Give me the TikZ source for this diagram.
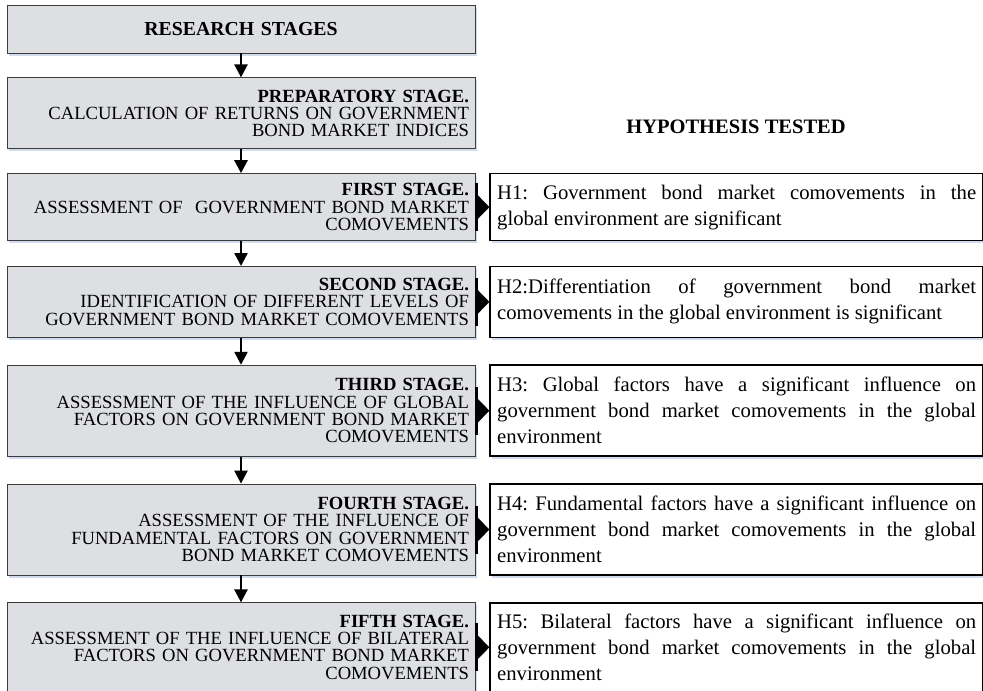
\documentclass[tikz,border=0pt]{standalone}
\usepackage{fontspec}
\setmainfont{Liberation Serif}
\usepackage{tikz}
\usetikzlibrary{
  arrows.meta,
  positioning,
  shadows
}
\usepackage{xcolor}
\definecolor{stagegray}{RGB}{222,223,226}
\definecolor{edgegray}{RGB}{60,60,60}
\definecolor{shadeblue}{RGB}{208,220,238}

\begin{document}
\begin{tikzpicture}[x=1pt, y=-1pt,
  stagebox/.style={
    rectangle, draw=edgegray, line width=0.8pt, fill=stagegray,
    minimum width=468pt, text width=456pt, inner sep=6pt, align=right,
    font=\fontsize{18.6}{17.2}\selectfont,
    drop shadow={shadow xshift=1.5pt, shadow yshift=-2.5pt, fill=shadeblue, opacity=1}
  },
  hypbox/.style={
    rectangle, draw=black, line width=1.5pt, fill=white,
    minimum width=493pt, text width=479pt, inner sep=7pt, align=justify,
    font=\fontsize{20.7}{26}\selectfont\frenchspacing,
    drop shadow={shadow xshift=1.5pt, shadow yshift=-2.5pt, fill=shadeblue, opacity=1}
  },
  downarrow/.style={line width=2.4pt, -{Triangle[length=13pt, width=13pt]}},
  sidearrow/.style={line width=3pt, {Bar[width=48pt]}-{Triangle[length=14pt, width=28pt]}}
]
  \useasboundingbox (0,0) rectangle (983,691);

  % Research stages
  \node[stagebox, align=center, minimum height=48pt,
        font=\fontsize{19.8}{20}\selectfont] (s0) at (241,29)
    {\textbf{RESEARCH STAGES}};
  \node[stagebox, minimum height=71pt, below=24pt of s0] (s1)
    {\textbf{PREPARATORY STAGE.}\\ CALCULATION OF RETURNS ON GOVERNMENT\\ BOND MARKET INDICES};
  \node[stagebox, minimum height=67pt, below=24pt of s1] (s2)
    {\textbf{FIRST STAGE.}\\ ASSESSMENT OF\ \ GOVERNMENT BOND MARKET\\ COMOVEMENTS};
  \node[stagebox, minimum height=71pt, below=25pt of s2] (s3)
    {\textbf{SECOND STAGE.}\\ IDENTIFICATION OF DIFFERENT LEVELS OF\\ GOVERNMENT BOND MARKET COMOVEMENTS};
  \node[stagebox, minimum height=91pt, below=27pt of s3] (s4)
    {\textbf{THIRD STAGE.}\\ ASSESSMENT OF THE INFLUENCE OF GLOBAL\\ FACTORS ON GOVERNMENT BOND MARKET\\ COMOVEMENTS};
  \node[stagebox, minimum height=91pt, below=27pt of s4] (s5)
    {\textbf{FOURTH STAGE.}\\ ASSESSMENT OF THE INFLUENCE OF\\ FUNDAMENTAL FACTORS ON GOVERNMENT\\ BOND MARKET COMOVEMENTS};
  \node[stagebox, minimum height=89pt, below=27pt of s5] (s6)
    {\textbf{FIFTH STAGE.}\\ ASSESSMENT OF THE INFLUENCE OF BILATERAL\\ FACTORS ON GOVERNMENT BOND MARKET\\ COMOVEMENTS};

  % Hypotheses
  \node[font=\fontsize{20.5}{21}\selectfont\bfseries] (title) at (736,127)
    {HYPOTHESIS TESTED};
  \node[hypbox, minimum height=67pt, right=14pt of s2] (h1)
    {H1: Government bond market comovements in the\linebreak global environment are significant};
  \node[hypbox, minimum height=71pt, right=14pt of s3] (h2)
    {H2:Differentiation of government bond market\linebreak comovements in the global environment is significant};
  \node[hypbox, minimum height=91pt, right=14pt of s4] (h3)
    {H3: Global factors have a significant influence on\linebreak government bond market comovements in the global\linebreak environment};
  \node[hypbox, minimum height=91pt, right=14pt of s5] (h4)
    {H4: Fundamental factors have a significant influence on\linebreak government bond market comovements in the global\linebreak environment};
  \node[hypbox, minimum height=89pt, right=14pt of s6] (h5)
    {H5: Bilateral factors have a significant influence on\linebreak government bond market comovements in the global\linebreak environment};

  % Arrows
  \foreach \a/\b in {s0/s1, s1/s2, s2/s3, s3/s4, s4/s5, s5/s6}
    \draw[downarrow] (\a.south) -- (\b.north);
  \foreach \k in {2,...,6}{
    \pgfmathtruncatemacro\h{\k-1}
    \draw[sidearrow] (s\k.east) -- (h\h.west);
  }
\end{tikzpicture}
\end{document}
